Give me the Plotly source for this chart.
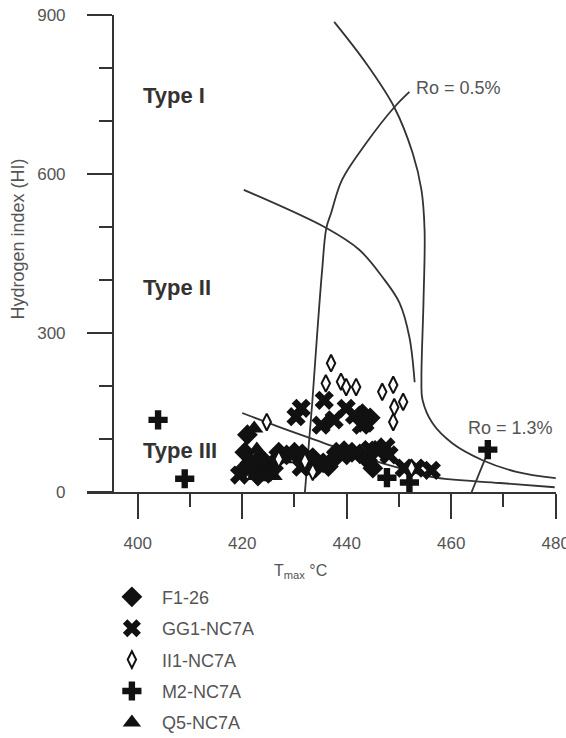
import plotly.graph_objects as go

# ---------------- data ----------------
# F1-26 (filled diamonds)
f1_tmax = [421.0, 420.5, 421.5, 422.5, 423.5, 424.5, 425.0, 426.5, 427.0, 428.5, 430.0, 431.5,
           432.5, 434.0, 435.5, 436.5, 438.0, 439.5, 441.0, 442.5, 444.0, 445.0, 443.0, 444.5,
           420.5, 423.0, 426.0, 433.5, 437.5, 440.0]
f1_hi = [108, 75, 55, 40, 65, 50, 35, 60, 75, 70, 75, 72,
         50, 45, 55, 48, 75, 78, 75, 72, 60, 45, 148, 140,
         45, 30, 45, 65, 62, 70]

# GG1-NC7A (crosses x)
gg1_tmax = [419.5, 430.3, 431.3, 435.7, 435.1, 437.6, 439.9, 442.8, 441.5, 444.5, 447.5,
            448.1, 451.0, 453.3, 456.2, 431.3, 445.8, 443.5]
gg1_hi = [32, 142, 158, 173, 126, 136, 158, 126, 145, 80, 85,
          70, 45, 45, 41, 47, 79, 130]

# II1-NC7A (open tall diamonds)
ii1_tmax = [424.7, 437.0, 436.0, 438.9, 439.9, 441.8, 446.8, 448.9, 449.1, 450.8, 448.9,
            427.0, 432.0, 433.5, 452.4]
ii1_hi = [132, 243, 205, 208, 198, 198, 189, 202, 160, 170, 132,
          62, 58, 38, 45]

# M2-NC7A (plus)
m2_tmax = [403.9, 409.0, 447.7, 452.0, 467.0]
m2_hi = [136, 25, 27, 18, 80]

# Q5-NC7A (triangles)
q5_tmax = [422.3, 422.5, 424.0, 425.5, 421.0, 422.8, 428.0, 426.0]
q5_hi = [120, 30, 28, 35, 45, 80, 62, 30]

# boundary curves (Tmax, HI)
outer_curve_tmax = [437.6, 443.7, 449.1, 452.6, 454.3, 454.9, 454.7, 454.3, 454.5, 456.4,
                    460.2, 466.0, 472.5, 480.0]
outer_curve_hi = [887, 809, 726, 640, 570, 494, 362, 211, 174, 130, 92, 60, 38, 26]

typeII_curve_tmax = [420.3, 436.1, 442.4, 446.8, 450.1, 452.0, 453.0]
typeII_curve_hi = [570, 498, 457, 406, 357, 292, 207]

typeIII_line_tmax = [420.0, 427.0, 434.1, 443.7, 450.1, 456.4, 469.3, 479.8]
typeIII_line_hi = [149, 123, 98, 64, 45, 28, 17, 9]

ro05_tmax = [452.0, 449.1, 443.7, 439.1, 437.0, 436.1, 435.3, 434.3, 433.4, 432.0]
ro05_hi = [755, 726, 658, 589, 526, 498, 419, 292, 168, 0]

ro13_tmax = [463.9, 466.8]
ro13_hi = [0, 70]

# ---------------- figure ----------------
FONT = "Liberation Sans, Arial, sans-serif"
LINE = "#333333"
TXT = "#555555"

fig = go.Figure()

for xs, ys, shp in [(outer_curve_tmax, outer_curve_hi, "spline"),
                    (typeII_curve_tmax, typeII_curve_hi, "spline"),
                    (typeIII_line_tmax, typeIII_line_hi, "spline"),
                    (ro05_tmax, ro05_hi, "spline"),
                    (ro13_tmax, ro13_hi, "linear")]:
    fig.add_trace(go.Scatter(x=xs, y=ys, mode="lines", line=dict(color=LINE, width=1.8, shape=shp),
                             showlegend=False, hoverinfo="skip"))

series = [
    ("F1-26", f1_tmax, f1_hi, dict(symbol="diamond", size=16, color="#111111"), 1),
    ("Q5-NC7A", q5_tmax, q5_hi, dict(symbol="triangle-up", size=16, color="#111111"), 5),
    ("GG1-NC7A", gg1_tmax, gg1_hi, dict(symbol="x", size=17, color="#111111"), 2),
    ("M2-NC7A", m2_tmax, m2_hi, dict(symbol="cross", size=16, color="#111111"), 4),
    ("II1-NC7A", ii1_tmax, ii1_hi, dict(symbol="diamond-tall", size=12, color="white",
                                         line=dict(color="#111111", width=2)), 3),
]
for name, xs, ys, mk, rank in series:
    fig.add_trace(go.Scatter(x=xs, y=ys, mode="markers", name=name, marker=mk,
                             legendgroup=name, legendrank=rank))

ann = [
    dict(x=400.7, y=749, text="<b>Type I</b>", xanchor="left", font=dict(size=22, color="#333333")),
    dict(x=400.7, y=385, text="<b>Type II</b>", xanchor="left", font=dict(size=22, color="#333333")),
    dict(x=400.7, y=79, text="<b>Type III</b>", xanchor="left", font=dict(size=22, color="#333333")),
    dict(x=452.9, y=762, text="Ro = 0.5%", xanchor="left", font=dict(size=18, color=TXT)),
    dict(x=462.9, y=121, text="Ro = 1.3%", xanchor="left", font=dict(size=18, color=TXT)),
]
for a in ann:
    fig.add_annotation(xref="x", yref="y", showarrow=False, **a)

fig.add_annotation(xref="paper", yref="paper", x=0.456, y=-0.19, showarrow=False,
                   text="T<sub>max</sub> °C", font=dict(size=16, color=TXT))
fig.add_annotation(xref="paper", yref="paper", x=-0.172, y=0.53, showarrow=False, textangle=-90,
                   text="Hydrogen index (HI)", font=dict(size=18, color=TXT))

fig.update_layout(
    width=566, height=738,
    margin=dict(l=87, r=10, t=15, b=246, autoexpand=False),
    paper_bgcolor="white", plot_bgcolor="white",
    font=dict(family=FONT, color=TXT),
    legend=dict(xref="container", yref="container", x=0.18, y=0.216, xanchor="left", yanchor="top",
                font=dict(size=18, color=TXT), traceorder="grouped", tracegroupgap=5,
                itemwidth=50, bgcolor="rgba(0,0,0,0)"),
    xaxis=dict(range=[390.3, 480.05], showgrid=False, zeroline=False, showline=True,
               linecolor=LINE, linewidth=2, ticks="outside", ticklen=25, tickwidth=2,
               tickcolor=LINE, tick0=400, dtick=20, ticklabelstandoff=10,
               ticklabeloverflow="allow", automargin=False,
               tickfont=dict(size=17, color=TXT),
               minor=dict(ticks="outside", ticklen=13, tickwidth=2, tickcolor=LINE, dtick=10,
                          tick0=400, showgrid=False)),
    yaxis=dict(range=[0, 900], anchor="free", position=0.0554, showgrid=False, zeroline=False,
               showline=True, linecolor=LINE, linewidth=2, ticks="outside", ticklen=25,
               tickwidth=2, tickcolor=LINE, tick0=0, dtick=300, ticklabelstandoff=18,
               automargin=False, tickfont=dict(size=17, color=TXT),
               minor=dict(ticks="outside", ticklen=13, tickwidth=2, tickcolor=LINE, dtick=100,
                          showgrid=False)),
)

fig.write_html("out.html")
